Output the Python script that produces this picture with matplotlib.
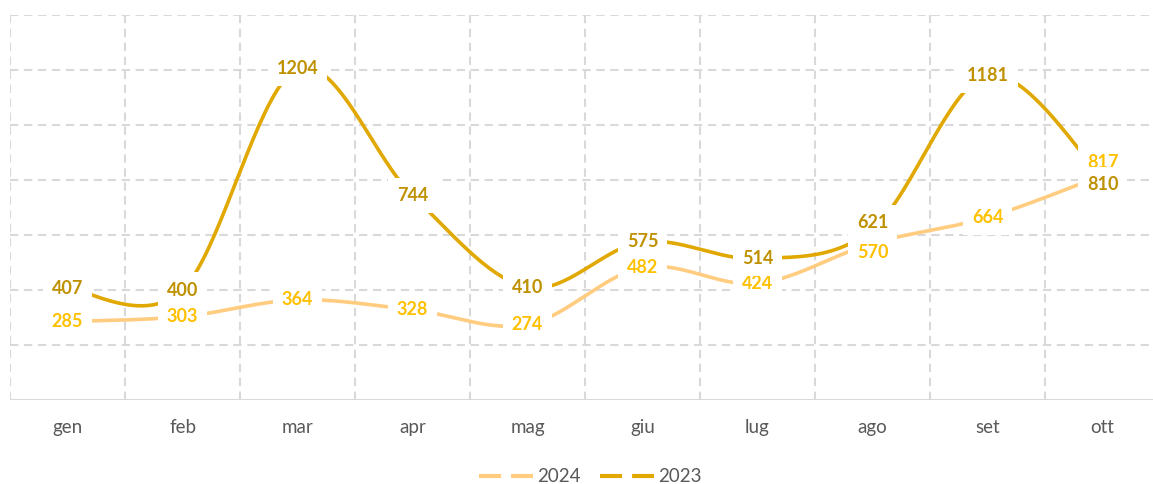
import numpy as np
import matplotlib
matplotlib.use("Agg")
import matplotlib.pyplot as plt
from matplotlib.lines import Line2D

months = ["gen", "feb", "mar", "apr", "mag", "giu", "lug", "ago", "set", "ott"]
vals_2024 = [285, 303, 364, 328, 274, 482, 424, 570, 664, 817]
vals_2023 = [407, 400, 1204, 744, 410, 575, 514, 621, 1181, 810]
series_names = ["2024", "2023"]

# label nudges (pixels) where the original separated overlapping labels
nudge_2024 = {7: -9, 9: 13}
nudge_2023 = {7: 7, 9: -7}

line_2024 = "#FFCC80"
label_2024 = "#FFC000"
line_2023 = "#E0A800"
label_2023 = "#BF9000"
grid_col = "#D9D9D9"
text_col = "#595959"

plt.rcParams["font.family"] = ["Lato", "DejaVu Sans"]

W, H = 1153, 484
fig = plt.figure(figsize=(W / 100, H / 100), dpi=100)
ax = fig.add_axes([10 / W, (H - 400) / H, 1150 / W, 385 / H])


def smooth(y, n=40):
    y = np.asarray(y, float)
    x = np.arange(len(y), dtype=float)
    pts = np.column_stack([x, y])
    ext = np.vstack([pts[0], pts, pts[-1]])
    out = []
    for i in range(len(pts) - 1):
        p0, p1, p2, p3 = ext[i], ext[i + 1], ext[i + 2], ext[i + 3]
        c1 = p1 + (p2 - p0) / 6.0
        c2 = p2 - (p3 - p1) / 6.0
        t = np.linspace(0, 1, n)[:, None]
        seg = ((1 - t) ** 3) * p1 + 3 * ((1 - t) ** 2) * t * c1 + 3 * (1 - t) * t ** 2 * c2 + t ** 3 * p2
        out.append(seg if i == 0 else seg[1:])
    s = np.vstack(out)
    return s[:, 0], s[:, 1]


# grid
for yv in range(200, 1401, 200):
    ax.axhline(yv, color=grid_col, lw=1.5, ls=(0, (4, 2.7)), zorder=0)
for xv in np.arange(-0.5, len(months), 1.0):
    ax.axvline(xv, color=grid_col, lw=1.5, ls=(0, (4, 2.7)), zorder=0)
ax.axhline(0, color=grid_col, lw=1.5, zorder=1)

x1, y1 = smooth(vals_2024)
ax.plot(x1, y1, color=line_2024, lw=2.6, solid_capstyle="butt", zorder=2)
x2, y2 = smooth(vals_2023)
ax.plot(x2, y2, color=line_2023, lw=2.6, solid_capstyle="butt", zorder=2)

bbox = dict(boxstyle="square,pad=0.5", fc="white", ec="none")
for vals, col, nudge in [(vals_2024, label_2024, nudge_2024), (vals_2023, label_2023, nudge_2023)]:
    for i, v in enumerate(vals):
        dy = nudge.get(i, 0) * 72 / 100
        ax.annotate(str(v), (i, v), xytext=(0, dy), textcoords="offset points",
                    ha="center", va="center", fontsize=13, fontweight="bold",
                    color=col, bbox=bbox, zorder=3)

ax.set_xlim(-0.5, len(months) - 0.5)
ax.set_ylim(0, 1400)
ax.set_xticks(range(len(months)))
ax.set_xticklabels(months, fontsize=13.5, color=text_col)
ax.tick_params(axis="x", length=0, pad=13.5)
ax.set_yticks([])
for sp in ax.spines.values():
    sp.set_visible(False)

handles = [
    Line2D([], [], color=line_2024, lw=3, ls=(0, (5.3, 2.4))),
    Line2D([], [], color=line_2023, lw=3, ls=(0, (5.3, 2.4))),
]
fig.legend(handles, series_names, loc="center", bbox_to_anchor=(590 / W, 1 - 477 / H),
           ncol=2, frameon=False, fontsize=13.5, labelcolor=text_col,
           handlelength=2.9, handletextpad=0.2, columnspacing=1.05)

fig.savefig("out.png", dpi=100)
